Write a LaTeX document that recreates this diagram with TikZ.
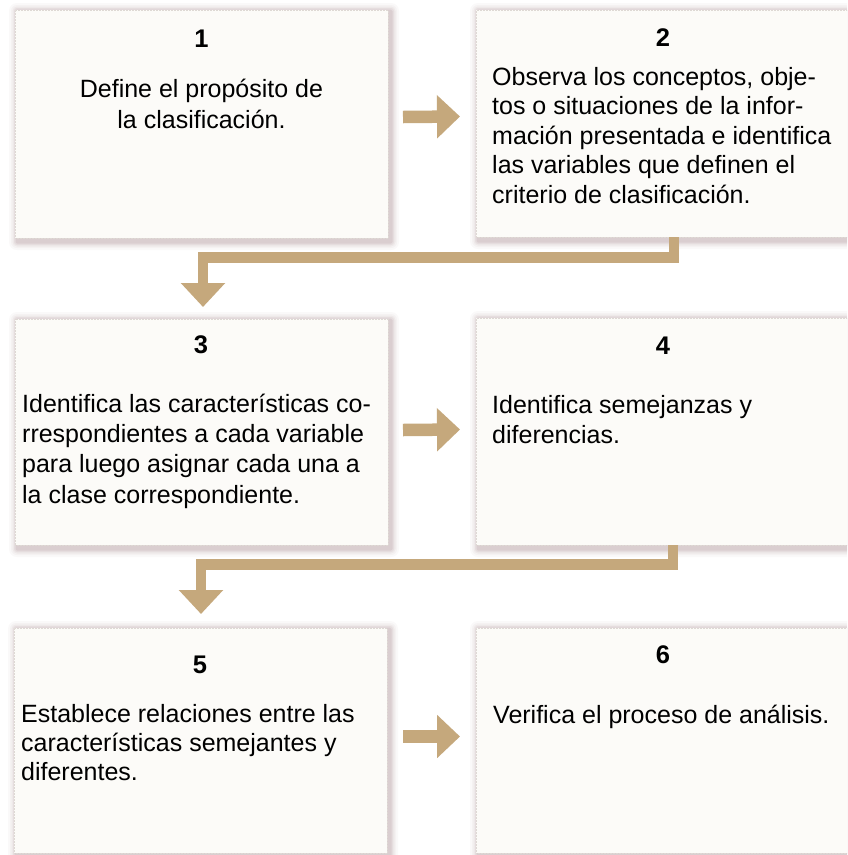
\documentclass[tikz,border=0pt]{standalone}
\usepackage{fontspec}
\setmainfont{Liberation Sans}
\usetikzlibrary{arrows.meta,calc}
\definecolor{tanc}{RGB}{197,168,124}
\definecolor{boxfill}{RGB}{252,251,248}
\definecolor{shadowc}{RGB}{135,90,100}
\definecolor{edgec}{RGB}{222,217,212}
\newcommand\cardshade[4]{%
  \foreach \s/\o in {8/0.035,6/0.045,4.5/0.06,3/0.08,1.5/0.11}{%
    \fill[shadowc, opacity=\o, rounded corners=\s pt]
      (#1+2-\s,#2+1-\s) rectangle (#3+3+\s,#4+4+\s);}}
\begin{document}
\begin{tikzpicture}[x=1pt,y=-1pt,
  card/.style={draw=edgec, densely dotted, line width=0.5pt, fill=boxfill,
    inner sep=0pt, outer sep=0pt, anchor=north west},
  num/.style={font=\bfseries\fontsize{25.5}{30}\selectfont, anchor=base, inner sep=0pt},
  body/.style={font=\fontsize{25}{30}\selectfont, inner sep=0pt, anchor=north west, align=left},
  harrow/.style={draw=tanc, line width=12.5pt, -{Triangle[width=42pt,length=23pt]}},
  elbow/.style={draw=tanc, line width=10.5pt, line join=miter, -{Triangle[width=43pt,length=24pt]}}]
\fill[white] (0,0) rectangle (847,855);
\useasboundingbox (0,0) rectangle (847,855);
\clip (0,0) rectangle (847,855);

% shadows
\cardshade{15}{10}{388}{238}
\cardshade{476}{10}{870}{237}
\cardshade{15}{319}{388}{545}
\cardshade{476}{318}{870}{545}
\cardshade{14}{628}{387}{853}
\cardshade{476}{628}{870}{853}

% cards
\node[card, minimum width=373pt, minimum height=228pt] (b1) at (15,10) {};
\node[card, minimum width=394pt, minimum height=227pt] (b2) at (476,10) {};
\node[card, minimum width=373pt, minimum height=226pt] (b3) at (15,319) {};
\node[card, minimum width=394pt, minimum height=227pt] (b4) at (476,318) {};
\node[card, minimum width=373pt, minimum height=225pt] (b5) at (14,628) {};
\node[card, minimum width=394pt, minimum height=225pt] (b6) at (476,628) {};

% connectors
\draw[harrow] ([shift={(15pt,7pt)}]b1.east) -- ([shift={(-16pt,7pt)}]b2.west);
\draw[harrow] ([shift={(15pt,2pt)}]b3.east) -- ([shift={(-16pt,2pt)}]b4.west);
\draw[harrow] ([shift={(16pt,4pt)}]b5.east) -- ([shift={(-16pt,4pt)}]b6.west);
\draw[elbow] ([xshift=198pt]b2.south west) -- ++(0,20.5) -| ([shift={(1.5pt,12pt)}]b3.north);
\draw[elbow] ([xshift=197pt]b4.south west) -- ++(0,19.5) -| ([shift={(0.5pt,14pt)}]b5.north);

% numbers
\node[num] (n1) at (201.5,47) {1};
\node[num] (n2) at (663,46) {2};
\node[num] (n3) at (201,353) {3};
\node[num] (n4) at (663,354) {4};
\node[num] (n5) at (200,673) {5};
\node[num] (n6) at (663,663) {6};

% texts
\node[body, anchor=north, align=center, font=\fontsize{25}{31}\selectfont] (t1) at (201.5,73)
  {\rule{0pt}{24pt}Define el propósito de\\la clasificación.};
\node[body, font=\fontsize{25}{29.5}\selectfont] (t2) at (492,61)
  {\rule{0pt}{24pt}Observa los conceptos, obje-\\tos o situaciones de la infor-\\mación presentada e identifica\\las variables que definen el\\criterio de clasificación.};
\node[body, font=\fontsize{25}{30.3}\selectfont] (t3) at (22,388)
  {\rule{0pt}{24pt}Identifica las características co-\\rrespondientes a cada variable\\para luego asignar cada una a\\la clase correspondiente.};
\node[body] (t4) at (492,389)
  {\rule{0pt}{24pt}Identifica semejanzas y\\diferencias.};
\node[body, font=\fontsize{25}{29}\selectfont] (t5) at (21,698)
  {\rule{0pt}{24pt}Establece relaciones entre las\\características semejantes y\\diferentes.};
\node[body] (t6) at (493,699)
  {\rule{0pt}{24pt}Verifica el proceso de análisis.};
\end{tikzpicture}
\end{document}
